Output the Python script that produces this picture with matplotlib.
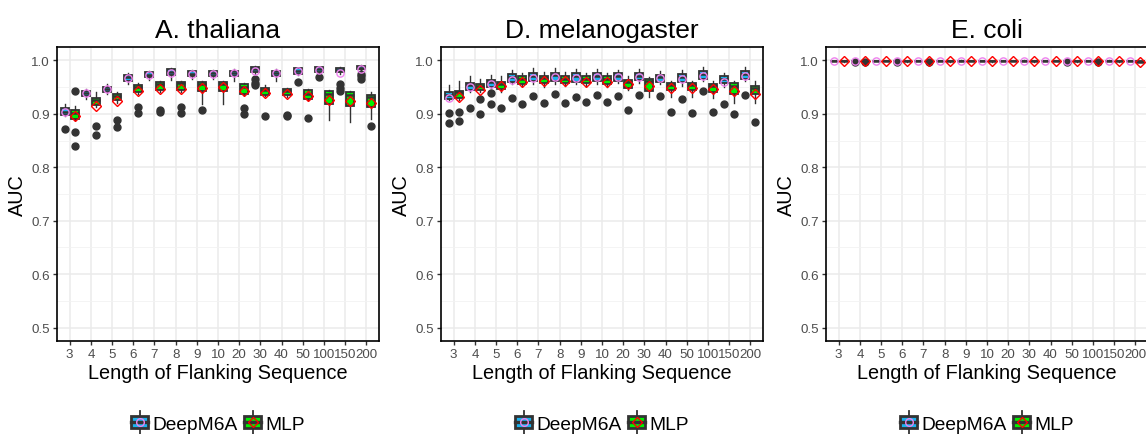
import matplotlib
matplotlib.use("Agg")
import matplotlib.pyplot as plt
from matplotlib.patches import Rectangle
from matplotlib.lines import Line2D
from matplotlib.legend_handler import HandlerBase
from matplotlib.ticker import FixedLocator

plt.rcParams['font.family'] = ['Liberation Sans', 'DejaVu Sans']

# ---------------------------------------------------------------- data
lengths = ["3", "4", "5", "6", "7", "8", "9", "10", "20", "30", "40", "50",
           "100", "150", "200"]
species = ["A. thaliana", "D. melanogaster", "E. coli"]
methods = ["DeepM6A", "MLP"]

# A. thaliana -- DeepM6A
at_deep_lo = [0.895, 0.927, 0.937, 0.956, 0.963, 0.963, 0.965, 0.965, 0.962, 0.975, 0.962, 0.972, 0.975, 0.975, 0.980]
at_deep_q1 = [0.8975, 0.934, 0.941, 0.962, 0.968, 0.973, 0.970, 0.970, 0.971, 0.979, 0.971, 0.975, 0.978, 0.978, 0.983]
at_deep_md = [0.903, 0.939, 0.947, 0.968, 0.973, 0.978, 0.975, 0.976, 0.976, 0.984, 0.976, 0.980, 0.983, 0.982, 0.986]
at_deep_q3 = [0.910, 0.943, 0.951, 0.973, 0.978, 0.983, 0.980, 0.981, 0.981, 0.988, 0.981, 0.985, 0.987, 0.986, 0.990]
at_deep_hi = [0.919, 0.946, 0.955, 0.976, 0.980, 0.985, 0.982, 0.982, 0.983, 0.990, 0.983, 0.986, 0.988, 0.987, 0.991]
at_deep_mean = [0.904, 0.939, 0.946, 0.967, 0.972, 0.977, 0.974, 0.975, 0.976, 0.980, 0.976, 0.981, 0.982, 0.977, 0.984]
at_deep_out = [[0.8725], [], [], [], [], [], [], [], [], [0.966, 0.958, 0.953], [], [0.960],
               [0.969], [0.955, 0.948, 0.943], [0.974, 0.970, 0.966]]

# A. thaliana -- MLP
at_mlp_lo = [0.888, 0.913, 0.921, 0.937, 0.940, 0.940, 0.918, 0.918, 0.935, 0.933, 0.932, 0.925, 0.889, 0.885, 0.891]
at_mlp_q1 = [0.891, 0.917, 0.925, 0.940, 0.944, 0.944, 0.943, 0.943, 0.938, 0.936, 0.935, 0.927, 0.918, 0.915, 0.913]
at_mlp_md = [0.902, 0.925, 0.934, 0.950, 0.956, 0.957, 0.955, 0.955, 0.951, 0.944, 0.942, 0.938, 0.937, 0.936, 0.932]
at_mlp_q3 = [0.907, 0.929, 0.938, 0.954, 0.960, 0.960, 0.959, 0.960, 0.956, 0.949, 0.946, 0.944, 0.942, 0.940, 0.936]
at_mlp_hi = [0.914, 0.941, 0.940, 0.957, 0.962, 0.962, 0.962, 0.962, 0.958, 0.953, 0.948, 0.947, 0.944, 0.942, 0.941]
at_mlp_mean = [0.896, 0.915, 0.924, 0.943, 0.946, 0.947, 0.948, 0.950, 0.942, 0.939, 0.937, 0.933, 0.926, 0.924, 0.921]
at_mlp_out = [[0.9425, 0.866, 0.8405], [0.877, 0.861], [0.888, 0.876], [0.913, 0.901],
              [0.907, 0.903], [0.913, 0.901], [0.908], [], [0.911, 0.899], [0.896],
              [0.898, 0.896], [0.893], [], [], [0.877]]

# D. melanogaster -- DeepM6A
dm_deep_lo = [0.925, 0.940, 0.948, 0.955, 0.955, 0.955, 0.955, 0.955, 0.957, 0.958, 0.955, 0.952, 0.962, 0.950, 0.962]
dm_deep_q1 = [0.928, 0.944, 0.951, 0.959, 0.961, 0.961, 0.960, 0.961, 0.962, 0.963, 0.960, 0.960, 0.965, 0.957, 0.966]
dm_deep_md = [0.936, 0.954, 0.959, 0.968, 0.971, 0.972, 0.970, 0.971, 0.971, 0.971, 0.968, 0.969, 0.974, 0.966, 0.974]
dm_deep_q3 = [0.940, 0.958, 0.963, 0.974, 0.977, 0.977, 0.976, 0.977, 0.976, 0.976, 0.973, 0.975, 0.980, 0.971, 0.980]
dm_deep_hi = [0.954, 0.971, 0.972, 0.982, 0.985, 0.985, 0.984, 0.983, 0.982, 0.984, 0.980, 0.982, 0.987, 0.977, 0.987]
dm_deep_mean = [0.929, 0.950, 0.956, 0.964, 0.967, 0.968, 0.967, 0.968, 0.969, 0.968, 0.967, 0.965, 0.971, 0.959, 0.970]
dm_deep_out = [[0.902, 0.882], [0.910], [0.939, 0.918], [0.930], [0.933], [0.937], [0.931],
               [0.936], [0.934], [0.935], [0.933], [0.927], [0.942], [0.918], [0.936]]

# D. melanogaster -- MLP
dm_mlp_lo = [0.926, 0.940, 0.940, 0.952, 0.950, 0.952, 0.952, 0.950, 0.945, 0.932, 0.932, 0.932, 0.930, 0.920, 0.920]
dm_mlp_q1 = [0.929, 0.944, 0.947, 0.956, 0.957, 0.957, 0.957, 0.956, 0.948, 0.942, 0.945, 0.945, 0.941, 0.937, 0.938]
dm_mlp_md = [0.940, 0.952, 0.955, 0.966, 0.967, 0.966, 0.966, 0.966, 0.960, 0.962, 0.954, 0.953, 0.952, 0.952, 0.949]
dm_mlp_q3 = [0.943, 0.955, 0.960, 0.970, 0.971, 0.970, 0.970, 0.970, 0.963, 0.965, 0.958, 0.957, 0.956, 0.957, 0.952]
dm_mlp_hi = [0.962, 0.966, 0.970, 0.977, 0.978, 0.978, 0.977, 0.977, 0.970, 0.968, 0.962, 0.962, 0.962, 0.962, 0.962]
dm_mlp_mean = [0.932, 0.945, 0.952, 0.960, 0.961, 0.961, 0.960, 0.960, 0.955, 0.952, 0.948, 0.948, 0.946, 0.943, 0.938]
dm_mlp_out = [[0.903, 0.887], [0.927, 0.900], [0.910], [0.918], [0.920], [0.920], [0.922],
              [0.922], [0.908], [], [0.903], [0.901], [0.903], [0.899], [0.885]]

# E. coli -- DeepM6A
ec_deep_lo = [0.9984, 0.9985, 0.9984, 0.9985, 0.9984, 0.9985, 0.9986, 0.9985, 0.9985, 0.9986, 0.9985, 0.9986, 0.9985, 0.9986, 0.9985]
ec_deep_q1 = [0.9987, 0.9988, 0.9987, 0.9988, 0.9987, 0.9988, 0.9989, 0.9988, 0.9988, 0.9989, 0.9988, 0.9989, 0.9988, 0.9989, 0.9988]
ec_deep_md = [0.9990, 0.9991, 0.9990, 0.9991, 0.9990, 0.9991, 0.9992, 0.9991, 0.9991, 0.9992, 0.9991, 0.9992, 0.9991, 0.9992, 0.9991]
ec_deep_q3 = [0.9993, 0.9994, 0.9993, 0.9994, 0.9993, 0.9994, 0.9995, 0.9994, 0.9994, 0.9995, 0.9994, 0.9995, 0.9994, 0.9995, 0.9994]
ec_deep_hi = [0.9996, 0.9997, 0.9996, 0.9997, 0.9996, 0.9997, 0.9998, 0.9997, 0.9997, 0.9998, 0.9997, 0.9998, 0.9997, 0.9998, 0.9997]
ec_deep_mean = [0.9988, 0.9989, 0.9988, 0.9989, 0.9988, 0.9990, 0.9990, 0.9989, 0.9989, 0.9990, 0.9989, 0.9990, 0.9989, 0.9990, 0.9989]
ec_deep_out = [[], [0.9975], [], [0.9976], [], [], [], [], [], [], [], [0.9976], [], [], []]

# E. coli -- MLP
ec_mlp_lo = [0.9978, 0.9976, 0.9979, 0.9978, 0.9979, 0.9978, 0.9979, 0.9978, 0.9979, 0.9978, 0.9979, 0.9977, 0.9976, 0.9977, 0.9965]
ec_mlp_q1 = [0.9982, 0.9980, 0.9983, 0.9982, 0.9983, 0.9982, 0.9983, 0.9982, 0.9983, 0.9982, 0.9983, 0.9981, 0.9980, 0.9981, 0.9970]
ec_mlp_md = [0.9986, 0.9984, 0.9987, 0.9986, 0.9987, 0.9986, 0.9987, 0.9986, 0.9987, 0.9986, 0.9987, 0.9985, 0.9984, 0.9985, 0.9975]
ec_mlp_q3 = [0.9990, 0.9988, 0.9991, 0.9990, 0.9991, 0.9990, 0.9991, 0.9990, 0.9991, 0.9990, 0.9991, 0.9989, 0.9988, 0.9989, 0.9980]
ec_mlp_hi = [0.9995, 0.9993, 0.9996, 0.9995, 0.9996, 0.9995, 0.9996, 0.9995, 0.9996, 0.9995, 0.9996, 0.9994, 0.9993, 0.9994, 0.9986]
ec_mlp_mean = [0.9985, 0.9982, 0.9986, 0.9985, 0.9986, 0.9985, 0.9986, 0.9985, 0.9986, 0.9985, 0.9986, 0.9984, 0.9982, 0.9984, 0.9972]
ec_mlp_out = [[], [0.9968], [], [], [0.9969], [], [], [], [], [], [], [], [0.9968], [], []]

# ---------------------------------------------------------------- styling
fill_colors = {"DeepM6A": "#1AB2EE", "MLP": "#00F000"}
mean_style = {"DeepM6A": ("o", "#EE82EE"), "MLP": ("D", "#FF0000")}
edge_col = "#333333"


def make_stats(lo, q1, md, q3, hi, mean, out):
    return [dict(whislo=a, q1=b, med=c, q3=d, whishi=e, mean=f, fliers=g)
            for a, b, c, d, e, f, g in zip(lo, q1, md, q3, hi, mean, out)]


panel_stats = {
    "A. thaliana": {
        "DeepM6A": make_stats(at_deep_lo, at_deep_q1, at_deep_md, at_deep_q3, at_deep_hi, at_deep_mean, at_deep_out),
        "MLP": make_stats(at_mlp_lo, at_mlp_q1, at_mlp_md, at_mlp_q3, at_mlp_hi, at_mlp_mean, at_mlp_out),
    },
    "D. melanogaster": {
        "DeepM6A": make_stats(dm_deep_lo, dm_deep_q1, dm_deep_md, dm_deep_q3, dm_deep_hi, dm_deep_mean, dm_deep_out),
        "MLP": make_stats(dm_mlp_lo, dm_mlp_q1, dm_mlp_md, dm_mlp_q3, dm_mlp_hi, dm_mlp_mean, dm_mlp_out),
    },
    "E. coli": {
        "DeepM6A": make_stats(ec_deep_lo, ec_deep_q1, ec_deep_md, ec_deep_q3, ec_deep_hi, ec_deep_mean, ec_deep_out),
        "MLP": make_stats(ec_mlp_lo, ec_mlp_q1, ec_mlp_md, ec_mlp_q3, ec_mlp_hi, ec_mlp_mean, ec_mlp_out),
    },
}


class BoxKey:
    def __init__(self, method):
        self.method = method


class BoxKeyHandler(HandlerBase):
    def create_artists(self, legend, orig_handle, xdescent, ydescent,
                       width, height, fontsize, trans):
        m = orig_handle.method
        x0, y0 = -xdescent, -ydescent
        cx, cy = x0 + width / 2, y0 + height / 2
        arts = [
            Line2D([cx, cx], [y0 - 0.2 * height, y0 + 0.15 * height], color=edge_col, lw=1.3, transform=trans),
            Line2D([cx, cx], [y0 + 0.85 * height, y0 + 1.2 * height], color=edge_col, lw=1.3, transform=trans),
            Rectangle((x0 + 0.03 * width, y0 + 0.15 * height), 0.94 * width, 0.7 * height,
                      facecolor=fill_colors[m], edgecolor=edge_col, lw=2.0, transform=trans),
            Line2D([x0 + 0.03 * width, x0 + 0.97 * width], [cy, cy], color=edge_col, lw=2.4, transform=trans),
        ]
        mk, mc = mean_style[m]
        arts.append(Line2D([cx], [cy], marker=mk, markersize=5.5, markerfacecolor="none",
                           markeredgecolor=mc, markeredgewidth=1.0, transform=trans))
        return arts


# ---------------------------------------------------------------- figure
W, H = 1146, 435
fig = plt.figure(figsize=(W / 100, H / 100), dpi=100)
panel_left = [57, 441, 826]
ax_w, ax_top, ax_bot = 322, 48, 342

offsets = {"DeepM6A": -0.24, "MLP": 0.24}
box_w = 0.38
cat_pos = list(range(1, len(lengths) + 1))

for sp, lp in zip(species, panel_left):
    ax = fig.add_axes([lp / W, 1 - ax_bot / H, ax_w / W, (ax_bot - ax_top) / H])
    for m in methods:
        mk, mc = mean_style[m]
        ax.bxp(panel_stats[sp][m],
               positions=[p + offsets[m] for p in cat_pos],
               widths=box_w, patch_artist=True, showmeans=True, showcaps=False,
               boxprops=dict(facecolor=fill_colors[m], edgecolor=edge_col, linewidth=1.3),
               medianprops=dict(color=edge_col, linewidth=1.8),
               whiskerprops=dict(color=edge_col, linewidth=1.0),
               meanprops=dict(marker=mk, markersize=5.2, markerfacecolor="none",
                              markeredgecolor=mc, markeredgewidth=1.0),
               flierprops=dict(marker="o", markersize=5, markerfacecolor=edge_col,
                               markeredgecolor=edge_col),
               zorder=3)
    ax.set_xlim(0.4, len(lengths) + 0.6)
    ax.set_ylim(0.475, 1.025)
    ax.set_xticks(cat_pos)
    ax.set_xticklabels(lengths)
    ax.yaxis.set_major_locator(FixedLocator([0.5, 0.6, 0.7, 0.8, 0.9, 1.0]))
    ax.yaxis.set_minor_locator(FixedLocator([0.55, 0.65, 0.75, 0.85, 0.95]))
    ax.set_yticklabels(["0.5", "0.6", "0.7", "0.8", "0.9", "1.0"])
    ax.grid(which="major", color="#EBEBEB", linewidth=1.1, zorder=0)
    ax.grid(which="minor", axis="y", color="#F2F2F2", linewidth=0.6, zorder=0)
    ax.set_axisbelow(True)
    ax.tick_params(which="major", length=3, width=1, color=edge_col,
                   labelsize=9.6, labelcolor="#4D4D4D", pad=2)
    ax.tick_params(which="minor", length=0)
    for s in ax.spines.values():
        s.set_color("black")
        s.set_linewidth(1.2)
    ax.set_title(sp, fontsize=19, pad=7)
    ax.set_xlabel("Length of Flanking Sequence", fontsize=14.3, labelpad=2)
    ax.set_ylabel("AUC", fontsize=14.3, labelpad=3)
    ax.legend([BoxKey("DeepM6A"), BoxKey("MLP")], methods,
              handler_map={BoxKey: BoxKeyHandler()},
              loc="center", bbox_to_anchor=(0.5, -0.28), ncol=2, frameon=False,
              fontsize=13.8, handlelength=0.95, handleheight=0.95,
              handletextpad=0.2, columnspacing=0.3, borderpad=0)

fig.savefig("out.png", dpi=100)
